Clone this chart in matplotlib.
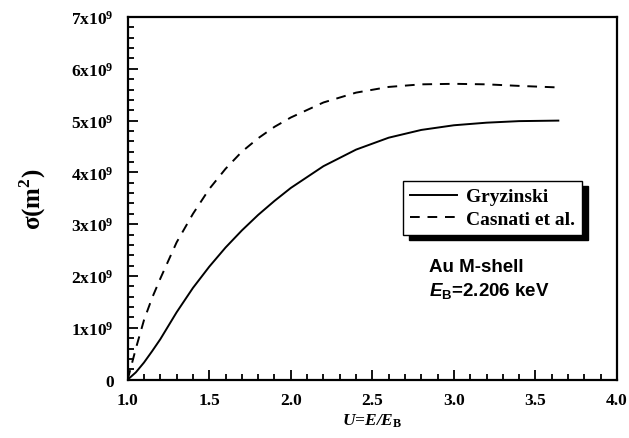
import matplotlib
matplotlib.use("Agg")
import matplotlib.pyplot as plt
from matplotlib.ticker import MultipleLocator, FuncFormatter

# Gryzinski curve (solid)
u_gry = [1.0, 1.05, 1.1, 1.15, 1.2, 1.3, 1.4, 1.5, 1.6, 1.7, 1.8, 1.9, 2.0,
         2.2, 2.4, 2.6, 2.8, 3.0, 3.2, 3.4, 3.64]
sig_gry = [0.0, 0.14, 0.33, 0.55, 0.78, 1.30, 1.77, 2.18, 2.55, 2.88, 3.18,
           3.45, 3.70, 4.12, 4.44, 4.67, 4.82, 4.91, 4.96, 4.99, 5.00]

# Casnati et al. curve (dashed)
u_cas = [1.0, 1.05, 1.1, 1.15, 1.2, 1.3, 1.4, 1.5, 1.6, 1.7, 1.8, 1.9, 2.0,
         2.2, 2.4, 2.6, 2.8, 3.0, 3.2, 3.4, 3.64]
sig_cas = [0.0, 0.60, 1.15, 1.58, 1.95, 2.65, 3.20, 3.68, 4.07, 4.40, 4.66,
           4.88, 5.06, 5.35, 5.54, 5.65, 5.70, 5.71, 5.70, 5.67, 5.64]

y_scale = 1e9
serif = "Liberation Serif"

plt.rcParams["mathtext.fontset"] = "custom"
plt.rcParams["mathtext.rm"] = "Liberation Serif:bold"
plt.rcParams["mathtext.bf"] = "Liberation Serif:bold"
plt.rcParams["mathtext.it"] = "Liberation Sans:bold:italic"
plt.rcParams["mathtext.sf"] = "Liberation Sans:bold"

fig = plt.figure(figsize=(6.29, 4.39), dpi=100)
ax = fig.add_axes([0.203, 0.133, 0.778, 0.826])

ax.plot(u_gry, [v * y_scale for v in sig_gry], color="black", lw=1.4, label="Gryzinski")
ax.plot(u_cas, [v * y_scale for v in sig_cas], color="black", lw=1.4,
        ls=(0, (5, 4)), label="Casnati et al.")

ax.set_xlim(1.0, 4.0)
ax.set_ylim(0, 7e9)
ax.xaxis.set_major_locator(MultipleLocator(0.5))
ax.xaxis.set_minor_locator(MultipleLocator(0.1))
ax.yaxis.set_major_locator(MultipleLocator(1e9))
ax.yaxis.set_minor_locator(MultipleLocator(0.2e9))


def fmt_y(v, pos):
    n = int(round(v / 1e9))
    if n == 0:
        return "0"
    return r"$\mathbf{%dx10^{9}}$" % n


ax.yaxis.set_major_formatter(FuncFormatter(fmt_y))
ax.xaxis.set_major_formatter(FuncFormatter(lambda v, p: "%.1f" % v))

ax.tick_params(which="both", direction="in", top=False, right=False, width=1.3)
ax.tick_params(which="major", length=7, labelsize=12.5)
ax.tick_params(axis="y", which="major", pad=10)
ax.tick_params(axis="x", which="major", pad=9)
ax.tick_params(which="minor", length=4)
for lab in ax.get_xticklabels() + ax.get_yticklabels():
    lab.set_fontfamily(serif)
    lab.set_fontweight("bold")
for sp in ax.spines.values():
    sp.set_linewidth(1.6)

ax.set_xlabel(r"U=E/E$_{\mathrm{B}}$", fontsize=12.5, family=serif,
              fontweight="bold", fontstyle="italic", labelpad=2)
ax.set_ylabel(r"σ(m$^{\mathbf{2}}$)", fontsize=18, fontweight="bold",
              family=serif, labelpad=17)

leg = ax.legend(loc="upper left", bbox_to_anchor=(0.563, 0.548), borderaxespad=0,
                fancybox=False, edgecolor="black", framealpha=1,
                shadow={"color": "black", "alpha": 1, "ox": 4, "oy": -4},
                prop={"family": serif, "weight": "bold", "size": 14},
                handlelength=2.4, handletextpad=0.5, borderpad=0.35, labelspacing=0.25)
leg.get_frame().set_linewidth(1.0)

ax.text(0.616, 0.311, "Au M-shell", transform=ax.transAxes, fontsize=13.5,
        family="Liberation Sans", fontweight="bold", va="center")
ax.text(0.616, 0.247, r"$\mathit{E}_{\mathsf{B}}$=2.206 keV", transform=ax.transAxes,
        fontsize=13.5, family="Liberation Sans", fontweight="bold", va="center")

fig.savefig("out.png", dpi=100)
